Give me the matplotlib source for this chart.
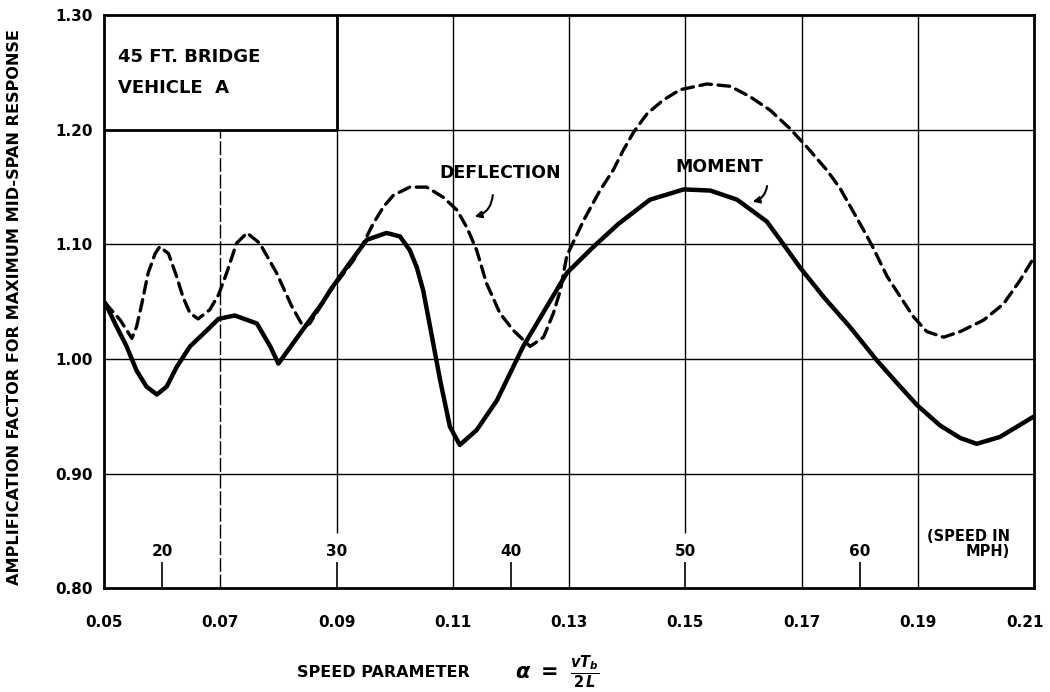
import matplotlib.pyplot as plt
from matplotlib.transforms import ScaledTranslation

# speed parameter alpha and amplification factor
moment_alpha = [0.0502, 0.0522, 0.0539, 0.0556, 0.0573, 0.0591, 0.0608, 0.0625, 0.0648, 0.0677,
                0.0697, 0.0725, 0.0763, 0.0786, 0.0800, 0.0837, 0.0877, 0.0889, 0.0923, 0.0952,
                0.0986, 0.1009, 0.1026, 0.1038, 0.1049, 0.1061, 0.1078, 0.1095, 0.1112, 0.1141,
                0.1176, 0.1221, 0.1262, 0.1296, 0.1342, 0.1385, 0.1439, 0.1497, 0.1543, 0.1589,
                0.1640, 0.1663, 0.1697, 0.1738, 0.1783, 0.1829, 0.1864, 0.1898, 0.1938, 0.1973,
                0.2001, 0.2041, 0.2100]
moment_factor = [1.049, 1.028, 1.011, 0.990, 0.976, 0.969, 0.976, 0.993, 1.011, 1.025,
                 1.035, 1.038, 1.031, 1.011, 0.996, 1.022, 1.050, 1.060, 1.084, 1.104,
                 1.110, 1.107, 1.095, 1.080, 1.060, 1.028, 0.982, 0.941, 0.925, 0.938,
                 0.964, 1.011, 1.046, 1.075, 1.098, 1.118, 1.139, 1.148, 1.147, 1.139,
                 1.120, 1.104, 1.080, 1.054, 1.028, 0.999, 0.979, 0.960, 0.942, 0.931,
                 0.926, 0.932, 0.950]

deflection_alpha = [0.0502, 0.0528, 0.0548, 0.0556, 0.0565, 0.0576, 0.0588, 0.0596, 0.0611, 0.0625,
                    0.0636, 0.0648, 0.0662, 0.0682, 0.0697, 0.0711, 0.0728, 0.0746, 0.0768, 0.0797,
                    0.0823, 0.0843, 0.0854, 0.0889, 0.0929, 0.0946, 0.0963, 0.0981, 0.0998, 0.1026,
                    0.1055, 0.1084, 0.1107, 0.1124, 0.1141, 0.1158, 0.1181, 0.1204, 0.1233, 0.1256,
                    0.1273, 0.1285, 0.1296, 0.1325, 0.1353, 0.1376, 0.1393, 0.1411, 0.1434, 0.1462,
                    0.1491, 0.1537, 0.1577, 0.1611, 0.1646, 0.1680, 0.1709, 0.1743, 0.1766, 0.1806,
                    0.1821, 0.1847, 0.1870, 0.1892, 0.1915, 0.1944, 0.1973, 0.2013, 0.2047, 0.2076,
                    0.2100]
deflection_factor = [1.049, 1.034, 1.018, 1.028, 1.048, 1.075, 1.092, 1.098, 1.092, 1.072,
                     1.054, 1.040, 1.035, 1.043, 1.056, 1.075, 1.101, 1.110, 1.101, 1.075,
                     1.046, 1.028, 1.031, 1.059, 1.086, 1.101, 1.118, 1.133, 1.143, 1.150,
                     1.150, 1.141, 1.130, 1.115, 1.095, 1.066, 1.040, 1.025, 1.011, 1.019,
                     1.040, 1.060, 1.090, 1.121, 1.147, 1.165, 1.182, 1.198, 1.214, 1.226,
                     1.235, 1.240, 1.238, 1.229, 1.217, 1.201, 1.185, 1.165, 1.149, 1.113,
                     1.099, 1.072, 1.054, 1.037, 1.024, 1.019, 1.024, 1.034, 1.048, 1.069,
                     1.089]

x_ticks = [0.05, 0.07, 0.09, 0.11, 0.13, 0.15, 0.17, 0.19, 0.21]
x_labels = ['0.05', '0.07', '0.09', '0.11', '0.13', '0.15', '0.17', '0.19', '0.21']
y_ticks = [0.80, 0.90, 1.00, 1.10, 1.20, 1.30]
y_labels = ['0.80', '0.90', '1.00', '1.10', '1.20', '1.30']
speeds_mph = [20, 30, 40, 50, 60]
alpha_per_mph = 0.003

plt.rcParams['font.family'] = 'DejaVu Sans'
plt.rcParams['font.weight'] = 'bold'

fig = plt.figure(figsize=(10.5, 6.92), dpi=100)
ax = fig.add_axes([0.099, 0.150, 0.886, 0.828])
ax.set_xlim(x_ticks[0], x_ticks[-1])
ax.set_ylim(y_ticks[0], y_ticks[-1])

# grid, drawn by hand to get the broken and dashed lines of the original
for y in y_ticks[1:4]:
    ax.axhline(y, color='k', lw=1.0, zorder=1)
ax.hlines(y_ticks[4], x_ticks[2], x_ticks[-1], color='k', lw=1.0, zorder=1)
ax.hlines(y_ticks[4], x_ticks[0], x_ticks[2], color='k', lw=2.0, zorder=1)
label_gap = 0.848
for x in x_ticks[1:-1]:
    if x == 0.07:
        ax.vlines(x, y_ticks[0], y_ticks[4], color='k', lw=1.0,
                  linestyles=(0, (10, 2)), zorder=1)
    elif x in (0.09, 0.15):
        ax.vlines(x, label_gap, y_ticks[-1], color='k', lw=1.0, zorder=1)
    else:
        ax.vlines(x, y_ticks[0], y_ticks[-1], color='k', lw=1.0, zorder=1)
ax.vlines(x_ticks[2], y_ticks[4], y_ticks[-1], color='k', lw=2.0, zorder=1)

# speed scale in mph
speed_alpha = [v * alpha_per_mph for v in speeds_mph]
ax.vlines(speed_alpha, y_ticks[0], 0.823, color='k', lw=1.2)
for a, v in zip(speed_alpha, speeds_mph):
    ax.text(a, 0.8255, str(v), ha='center', va='bottom', fontsize=11)
ax.text(0.1915, 0.8255, '(SPEED IN\nMPH)', ha='left', va='bottom',
        fontsize=10.5, multialignment='right', linespacing=1.0)

# curves
ax.plot(moment_alpha, moment_factor, color='k', lw=3.2, solid_capstyle='round',
        solid_joinstyle='round', zorder=3)
ax.plot(deflection_alpha, deflection_factor, color='k', lw=2.4,
        dashes=(3.5, 2.0), dash_capstyle='round', zorder=3)

ax.text(0.1181, 1.1621, 'DEFLECTION', ha='center', va='center', fontsize=12.5)
ax.text(0.1558, 1.1674, 'MOMENT', ha='center', va='center', fontsize=12.5)
ax.annotate('', xy=(0.1133, 1.1237), xytext=(0.1169, 1.1455),
            arrowprops=dict(arrowstyle='-|>', color='k', lw=1.5,
                            connectionstyle='arc3,rad=-0.4', mutation_scale=10))
ax.annotate('', xy=(0.1611, 1.1368), xytext=(0.1641, 1.1534),
            arrowprops=dict(arrowstyle='-|>', color='k', lw=1.5,
                            connectionstyle='arc3,rad=-0.4', mutation_scale=10))

ax.text(0.0524, 1.2634, '45 FT. BRIDGE', ha='left', va='center', fontsize=13)
ax.text(0.0524, 1.2363, 'VEHICLE  A', ha='left', va='center', fontsize=13)

ax.set_xticks(x_ticks)
ax.set_xticklabels(x_labels, fontsize=11)
ax.set_yticks(y_ticks)
ax.set_yticklabels(y_labels, fontsize=11)
ax.tick_params(axis='x', length=0, pad=19)
ax.tick_params(axis='y', length=0, pad=8)
# keep the last label inside the figure
last = ax.get_xticklabels()[-1]
last.set_transform(last.get_transform() + ScaledTranslation(-7 / 72, 0, fig.dpi_scale_trans))
for s in ax.spines.values():
    s.set_linewidth(2.0)

fig.text(0.014, 0.556, 'AMPLIFICATION FACTOR FOR MAXIMUM MID-SPAN RESPONSE',
         rotation=90, ha='center', va='center', fontsize=11.6)
fig.text(297 / 1050, 0.028, 'SPEED PARAMETER', ha='left', va='center', fontsize=11.5)
fig.text(515 / 1050, 0.028, r'$\alpha\ =\ \frac{vT_b}{2\,L}$', ha='left', va='center',
         fontsize=15)

fig.savefig('out.png', dpi=100)
